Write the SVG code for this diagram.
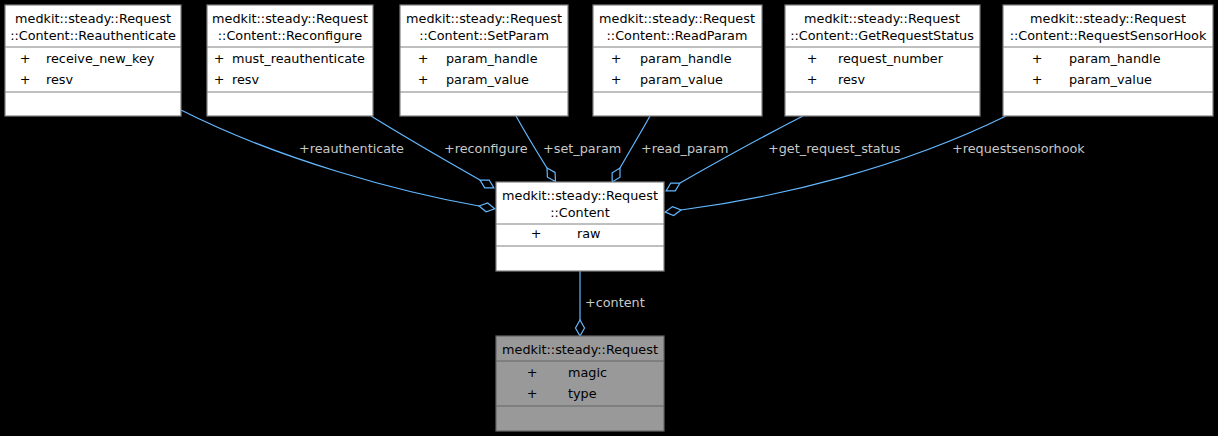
<svg xmlns="http://www.w3.org/2000/svg" width="1218" height="436" viewBox="0 0 1218 436">
  <style>
    text { font-family: "DejaVu Sans", "Liberation Sans", sans-serif; font-size: 12.8px; fill: #000000; }
    .box { fill: #ffffff; stroke: #808080; stroke-width: 1.2; }
    .gbox { fill: #999999; stroke: #666666; stroke-width: 1.2; }
    .sep { stroke: #808080; stroke-width: 1.2; }
    .gsep { stroke: #666666; stroke-width: 1.2; }
    .c { text-anchor: middle; }
    .edge { fill: none; stroke: #63b8ff; stroke-width: 1.2; marker-end: url(#odiamond); }
    .lbl { fill: #c8c8c8; }
  </style>
  <defs>
    <marker id="odiamond" markerUnits="userSpaceOnUse" viewBox="-1 -6 19 12" markerWidth="19" markerHeight="12" refX="0" refY="0" orient="auto">
      <path d="M0,0 L8,-4.5 L16,0 L8,4.5 Z" fill="none" stroke="#63b8ff" stroke-width="1.2"/>
    </marker>
  </defs>
  <rect width="1218" height="436" fill="#000000"/>

  <!-- connectors -->
  <g id="edges">
    <path class="edge" d="M181,110 C280,160 400,192 479,206"/>
    <path class="edge" d="M371,116 C410,140 450,163 480,180"/>
    <path class="edge" d="M516,116 C526,134 537,152 547,168"/>
    <path class="edge" d="M650,116 C640,134 629,152 620,168"/>
    <path class="edge" d="M803,116 C760,138 715,163 680,183"/>
    <path class="edge" d="M1006,116 C900,168 780,197 681,210"/>
    <path class="edge" d="M580,271 L580,320"/>
    <text class="lbl" x="299" y="153">+reauthenticate</text>
    <text class="lbl" x="444" y="153">+reconfigure</text>
    <text class="lbl" x="543" y="153">+set_param</text>
    <text class="lbl" x="641" y="153">+read_param</text>
    <text class="lbl" x="768" y="153">+get_request_status</text>
    <text class="lbl" x="952" y="153">+requestsensorhook</text>
    <text class="lbl" x="585" y="307">+content</text>
  </g>

  <g id="reauthenticate">
    <rect class="box" x="5" y="5" width="176" height="111"/>
    <line class="sep" x1="5" y1="47" x2="181" y2="47"/>
    <line class="sep" x1="5" y1="92" x2="181" y2="92"/>
    <text class="c" x="93" y="23">medkit::steady::Request</text>
    <text class="c" x="93" y="40">::Content::Reauthenticate</text>
    <text class="c" x="25" y="63">+</text>
    <text x="46" y="63">receive_new_key</text>
    <text class="c" x="25" y="84">+</text>
    <text x="46" y="84">resv</text>
  </g>

  <g id="reconfigure">
    <rect class="box" x="207" y="5" width="166" height="111"/>
    <line class="sep" x1="207" y1="47" x2="373" y2="47"/>
    <line class="sep" x1="207" y1="92" x2="373" y2="92"/>
    <text class="c" x="290" y="23">medkit::steady::Request</text>
    <text class="c" x="290" y="40">::Content::Reconfigure</text>
    <text class="c" x="219" y="63">+</text>
    <text x="232" y="63">must_reauthenticate</text>
    <text class="c" x="219" y="84">+</text>
    <text x="232" y="84">resv</text>
  </g>

  <g id="setparam">
    <rect class="box" x="400" y="5" width="168" height="111"/>
    <line class="sep" x1="400" y1="47" x2="568" y2="47"/>
    <line class="sep" x1="400" y1="92" x2="568" y2="92"/>
    <text class="c" x="484" y="23">medkit::steady::Request</text>
    <text class="c" x="484" y="40">::Content::SetParam</text>
    <text class="c" x="423" y="63">+</text>
    <text x="446" y="63">param_handle</text>
    <text class="c" x="423" y="84">+</text>
    <text x="446" y="84">param_value</text>
  </g>

  <g id="readparam">
    <rect class="box" x="593" y="5" width="169" height="111"/>
    <line class="sep" x1="593" y1="47" x2="762" y2="47"/>
    <line class="sep" x1="593" y1="92" x2="762" y2="92"/>
    <text class="c" x="677" y="23">medkit::steady::Request</text>
    <text class="c" x="677" y="40">::Content::ReadParam</text>
    <text class="c" x="616" y="63">+</text>
    <text x="640" y="63">param_handle</text>
    <text class="c" x="616" y="84">+</text>
    <text x="640" y="84">param_value</text>
  </g>

  <g id="getrequeststatus">
    <rect class="box" x="785" y="5" width="195" height="111"/>
    <line class="sep" x1="785" y1="47" x2="980" y2="47"/>
    <line class="sep" x1="785" y1="92" x2="980" y2="92"/>
    <text class="c" x="882" y="23">medkit::steady::Request</text>
    <text class="c" x="882" y="40">::Content::GetRequestStatus</text>
    <text class="c" x="812" y="63">+</text>
    <text x="838" y="63">request_number</text>
    <text class="c" x="812" y="84">+</text>
    <text x="838" y="84">resv</text>
  </g>

  <g id="requestsensorhook">
    <rect class="box" x="1003" y="5" width="210" height="111"/>
    <line class="sep" x1="1003" y1="47" x2="1213" y2="47"/>
    <line class="sep" x1="1003" y1="92" x2="1213" y2="92"/>
    <text class="c" x="1108" y="23">medkit::steady::Request</text>
    <text class="c" x="1108" y="40">::Content::RequestSensorHook</text>
    <text class="c" x="1037" y="63">+</text>
    <text x="1069" y="63">param_handle</text>
    <text class="c" x="1037" y="84">+</text>
    <text x="1069" y="84">param_value</text>
  </g>

  <g id="content">
    <rect class="box" x="496" y="182" width="168" height="89"/>
    <line class="sep" x1="496" y1="224" x2="664" y2="224"/>
    <line class="sep" x1="496" y1="246" x2="664" y2="246"/>
    <text class="c" x="580" y="200">medkit::steady::Request</text>
    <text class="c" x="580" y="217">::Content</text>
    <text class="c" x="536" y="238">+</text>
    <text x="577" y="238">raw</text>
  </g>

  <g id="request">
    <rect class="gbox" x="496" y="336" width="168" height="95"/>
    <line class="gsep" x1="496" y1="361" x2="664" y2="361"/>
    <line class="gsep" x1="496" y1="406" x2="664" y2="406"/>
    <text class="c" x="580" y="354">medkit::steady::Request</text>
    <text class="c" x="532" y="377">+</text>
    <text x="568" y="377">magic</text>
    <text class="c" x="532" y="398">+</text>
    <text x="568" y="398">type</text>
  </g>
</svg>
